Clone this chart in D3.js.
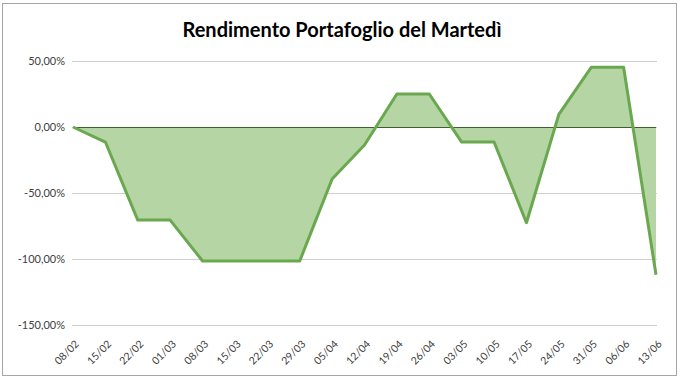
<!DOCTYPE html>
<html>
<head>
<meta charset="utf-8">
<script src="https://cdn.jsdelivr.net/npm/d3@7"></script>
<style>
  body { margin: 0; background: #fff; }
  text { font-family: Lato, "Open Sans", sans-serif; }
</style>
</head>
<body>
<div id="chart"></div>
<script>
let dates = ["08/02", "15/02", "22/02", "01/03", "08/03", "15/03", "22/03", "29/03", "05/04",
  "12/04", "19/04", "26/04", "03/05", "10/05", "17/05", "24/05", "31/05", "06/06", "13/06"];
let rendimento = [0, -11.4, -70.5, -70.5, -101.5, -101.5, -101.5, -101.5, -39.4,
  -13.6, 25, 25, -11.4, -11.4, -72.5, 9.6, 45.2, 45.2, -112];
let yTicks = [50, 0, -50, -100, -150];

let width = 680, height = 380;
let margin = {top: 61, right: 24, bottom: 55, left: 73};

let svg = d3.select("#chart")
    .append("svg")
    .attr("width", width)
    .attr("height", height);

// chart border
svg.append("rect")
    .attr("x", 2.5).attr("y", 3.5)
    .attr("width", 674).attr("height", 372)
    .attr("fill", "none")
    .attr("stroke", "#a6a6a6");

let g = svg.append("g")
    .attr("transform", `translate(${margin.left},${margin.top})`);

let x = d3.scalePoint()
    .domain(dates)
    .range([0, width - margin.left - margin.right]);

let y = d3.scaleLinear()
    .domain([-150, 50])
    .range([height - margin.top - margin.bottom, 0]);

let fmt = function(v) { return d3.format(".2f")(v).replace(".", ",").replace("−", "-") + "%"; };

// gridlines + y labels
g.selectAll(".grid").data(yTicks).enter()
    .append("line")
    .attr("x1", -1).attr("x2", x.range()[1] + 1)
    .attr("y1", d => Math.round(y(d)) + 0.5)
    .attr("y2", d => Math.round(y(d)) + 0.5)
    .attr("stroke", "#d0d0d0");

g.selectAll(".ylab").data(yTicks).enter()
    .append("text")
    .attr("x", -8)
    .attr("y", d => y(d))
    .attr("dy", "0.35em")
    .style("text-anchor", "end")
    .style("font-size", "11px")
    .attr("fill", "#404040")
    .text(d => fmt(d));

// area
let area = d3.area()
    .x(d => x(d.date))
    .y0(y(0))
    .y1(d => y(d.v));

let data = dates.map((d, i) => ({date: d, v: rendimento[i]}));

g.append("path")
    .datum(data)
    .attr("fill", "#b5d5a5")
    .attr("d", area);

// zero axis line
g.append("line")
    .attr("x1", 0).attr("x2", x.range()[1])
    .attr("y1", Math.round(y(0)) + 0.5).attr("y2", Math.round(y(0)) + 0.5)
    .attr("stroke", "#3f5f30");

g.append("path")
    .datum(data)
    .attr("fill", "none")
    .attr("stroke", "#6aa84f")
    .attr("stroke-width", 3)
    .attr("stroke-linejoin", "round")
    .attr("d", d3.line().x(d => x(d.date)).y(d => y(d.v)));

// x labels
g.selectAll(".xlab").data(dates).enter()
    .append("text")
    .attr("transform", d => `translate(${x(d) + 4},${y(-150) + 17}) rotate(-45)`)
    .attr("dy", "0.35em")
    .style("text-anchor", "end")
    .style("font-size", "10.5px")
    .attr("fill", "#404040")
    .text(d => d);

// title
svg.append("text")
    .attr("x", 342)
    .attr("y", 37)
    .style("text-anchor", "middle")
    .style("font-size", "20px")
    .style("font-weight", "bold")
    .attr("fill", "#000")
    .text("Rendimento Portafoglio del Martedì");
</script>
</body>
</html>
